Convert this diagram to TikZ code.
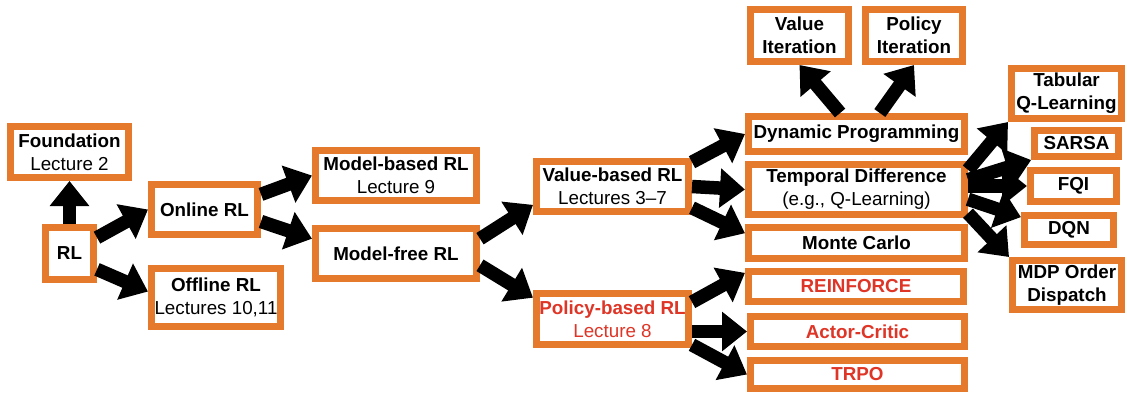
\documentclass[tikz,border=0pt]{standalone}
\usepackage{fontspec}
\setmainfont{Liberation Sans}
\usetikzlibrary{arrows.meta}
\definecolor{boxorange}{RGB}{230,122,44}
\definecolor{polred}{RGB}{222,53,38}
\newcommand\pxl{0.02cm}

\begin{document}
\begin{tikzpicture}[x=0.02cm,y=-0.02cm,
  box/.style={draw=boxorange, line width=0.14cm, fill=white, inner sep=0pt,
    align=center, font=\fontsize{10.7}{13}\selectfont},
  redbox/.style={box, text=polred},
  arr/.style={line width=0.27cm, -{Triangle[length=0.5cm,width=0.76cm]}}]

\useasboundingbox (0,0) rectangle (1127,393);

% left part
\node[box, minimum width=118*\pxl, minimum height=51*\pxl] (found) at (69.5,152) {\textbf{Foundation}\\Lecture 2};
\node[box, minimum width=48*\pxl, minimum height=52*\pxl] (rl) at (69.5,253.5) {\textbf{RL}};
\node[box, minimum width=106*\pxl, minimum height=50*\pxl] (online) at (204.5,209.5) {\textbf{Online RL}};
\node[box, minimum width=129*\pxl, minimum height=58*\pxl] (offline) at (216,297.5) {\textbf{Offline RL}\\Lectures 10,11};
\node[box, minimum width=161*\pxl, minimum height=50*\pxl] (mbased) at (396,175.5) {\textbf{Model-based RL}\\Lecture 9};
\node[box, minimum width=161*\pxl, minimum height=50*\pxl] (mfree) at (396,253.5) {\textbf{Model-free RL}};
\node[box, minimum width=152*\pxl, minimum height=50*\pxl] (vbased) at (612.5,186.5) {\textbf{Value-based RL}\\Lectures 3--7};
\node[redbox, minimum width=152*\pxl, minimum height=51*\pxl] (pbased) at (612.5,319) {\textbf{Policy-based RL}\\Lecture 8};

% value-based methods
\node[box, minimum width=98*\pxl, minimum height=52*\pxl] (vi) at (799.5,35.5) {\textbf{Value}\\\textbf{Iteration}};
\node[box, minimum width=97*\pxl, minimum height=52*\pxl] (pi) at (914,35.5) {\textbf{Policy}\\\textbf{Iteration}};
\node[box, minimum width=216*\pxl, minimum height=35*\pxl] (dp) at (856.5,134) {\textbf{Dynamic Programming}};
\node[box, minimum width=216*\pxl, minimum height=50*\pxl] (td) at (856.5,189.5) {\textbf{Temporal Difference}\\(e.g., Q-Learning)};
\node[box, minimum width=216*\pxl, minimum height=31*\pxl] (mc) at (856.5,243) {\textbf{Monte Carlo}};

% policy-based methods
\node[redbox, minimum width=215*\pxl, minimum height=30*\pxl] (reinf) at (856,286.5) {\textbf{REINFORCE}};
\node[redbox, minimum width=214*\pxl, minimum height=30*\pxl] (ac) at (857.5,331.5) {\textbf{Actor-Critic}};
\node[redbox, minimum width=214*\pxl, minimum height=28*\pxl] (trpo) at (857.5,374.5) {\textbf{TRPO}};

% TD variants
\node[box, minimum width=110*\pxl, minimum height=50*\pxl] (tabq) at (1066.5,93.5) {\textbf{Tabular}\\\textbf{Q-Learning}};
\node[box, minimum width=84*\pxl, minimum height=26*\pxl] (sarsa) at (1076.5,143.5) {\textbf{SARSA}};
\node[box, minimum width=86*\pxl, minimum height=31*\pxl] (fqi) at (1073.5,186) {\textbf{FQI}};
\node[box, minimum width=89*\pxl, minimum height=29*\pxl] (dqn) at (1069,230) {\textbf{DQN}};
\node[box, minimum width=109*\pxl, minimum height=49*\pxl] (mdp) at (1067,285) {\textbf{MDP Order}\\\textbf{Dispatch}};

% arrows
\foreach \a/\b in {rl.north/found.south, rl.30/online.west, rl.-30/offline.175,
  online.15/mbased.west, online.-12/mfree.170,
  mfree.10/vbased.193, mfree.-8/pbased.165,
  vbased.17/dp.west, vbased.east/td.west, vbased.-15/mc.175,
  pbased.12/reinf.173, pbased.east |- ac.west/ac.west, pbased.-18/trpo.west,
  dp.128/vi.south, dp.42/pi.south,
  td.10/tabq.south west, td.5/sarsa.200, td.east |- fqi.west/fqi.west,
  td.-5/dqn.165, td.-12/mdp.north west}
  \draw[arr] (\a) -- (\b);

\end{tikzpicture}
\end{document}
